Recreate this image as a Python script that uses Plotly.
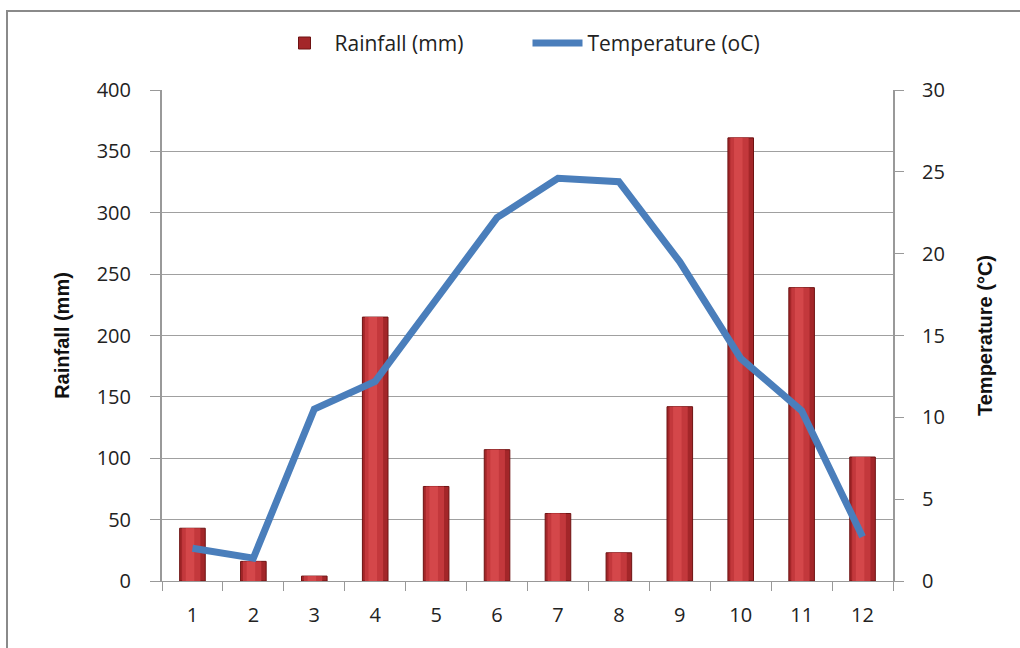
import plotly.graph_objects as go

months = ["1", "2", "3", "4", "5", "6", "7", "8", "9", "10", "11", "12"]
rainfall = [43, 16, 4, 215, 77, 107, 55, 23, 142, 361, 239, 101]
temperature = [2.0, 1.4, 10.5, 12.2, 17.2, 22.2, 24.6, 24.4, 19.5, 13.6, 10.4, 2.7]

fig = go.Figure()
# base (dark edges)
fig.add_trace(go.Bar(
    x=months, y=rainfall, name="Rainfall (mm)",
    width=0.42, offset=-0.21,
    marker=dict(color="#A32629", line=dict(color="#6E1212", width=1)),
    yaxis="y", showlegend=True,
))
# lighter body
fig.add_trace(go.Bar(
    x=months, y=rainfall, name="Rainfall (mm)",
    width=0.30, offset=-0.17,
    marker=dict(color="#C3383C", line=dict(width=0)),
    yaxis="y", showlegend=False, hoverinfo="skip",
))
# highlight
fig.add_trace(go.Bar(
    x=months, y=rainfall, name="Rainfall (mm)",
    width=0.14, offset=-0.11,
    marker=dict(color="#D4474A", line=dict(width=0)),
    yaxis="y", showlegend=False, hoverinfo="skip",
))
fig.add_trace(go.Scatter(
    x=months, y=temperature, name="Temperature (oC)", mode="lines",
    line=dict(color="#4A7EBB", width=7),
    yaxis="y2",
))

axis_font = dict(family="Open Sans", size=20, color="#222")
title_font = dict(family="Liberation Sans Narrow, Arial Narrow, sans-serif", size=20, color="#111")
fig.update_layout(
    width=1020, height=648,
    margin=dict(l=162, r=127, t=90, b=67),
    paper_bgcolor="white", plot_bgcolor="white",
    barmode="overlay",
    font=dict(family="Open Sans", color="#222"),
    showlegend=True,
    legend=dict(orientation="h", x=0.5, xanchor="center", y=1.095, yanchor="middle",
                font=dict(family="Open Sans", size=21, color="#222"), traceorder="normal",
                itemwidth=50, entrywidth=188, entrywidthmode="pixels"),
    xaxis=dict(
        type="category", tickson="boundaries", ticks="outside", ticklen=9,
        tickcolor="#999", showline=True, linecolor="#999", linewidth=1,
        tickfont=axis_font, showgrid=False, zeroline=False, ticklabelstandoff=16,
    ),
    yaxis=dict(
        range=[0, 400], dtick=50, ticks="outside", ticklen=10, tickcolor="#999",
        showline=True, linecolor="#999", linewidth=2,
        showgrid=True, gridcolor="#A0A0A0", gridwidth=1, zeroline=False,
        tickfont=axis_font, ticklabelstandoff=15,
        title=dict(text="<b>Rainfall (mm)</b>", font=title_font, standoff=22),
    ),
    yaxis2=dict(
        range=[0, 30], dtick=5, overlaying="y", side="right",
        ticks="outside", ticklen=9, tickcolor="#999",
        showline=True, linecolor="#999", linewidth=2,
        showgrid=False, zeroline=False, tickfont=axis_font, ticklabelstandoff=14,
        title=dict(text="<b>Temperature (°C)</b>", font=title_font, standoff=34),
    ),
    shapes=[dict(
        type="rect", xref="paper", yref="paper",
        x0=(7 - 162) / 731, x1=(1030 - 162) / 731,
        y0=(581 - 660) / 491, y1=(581 - 11) / 491,
        line=dict(color="#8A8A8A", width=2), fillcolor="rgba(0,0,0,0)", layer="below",
    )],
)

fig.write_html("out.html")
